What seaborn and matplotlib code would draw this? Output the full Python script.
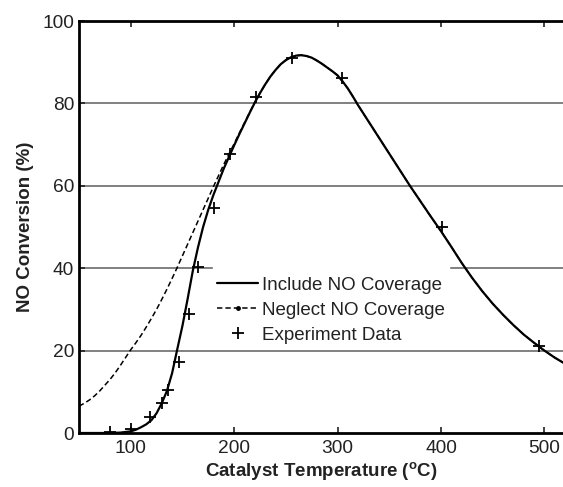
import numpy as np
import pandas as pd
import matplotlib
matplotlib.use('Agg')
import matplotlib.pyplot as plt
from matplotlib.lines import Line2D
import seaborn as sns

# --- data ---
temp_include = [50, 60, 70, 80, 90, 100, 105, 110, 115, 120, 125, 130, 135, 140, 145,
                150, 155, 160, 165, 170, 175, 180, 185, 190, 195, 200, 205, 210, 215,
                220, 225, 230, 235, 240, 245, 250, 255, 260, 265, 270, 275, 280, 285,
                290, 295, 300, 305, 310, 315, 320, 330, 340, 350, 360, 370, 380, 390,
                400, 410, 420, 430, 440, 450, 460, 470, 480, 490, 500, 510, 520]
conv_include = [0, 0, 0, 0, 0.1, 0.4, 0.8, 1.4, 2.1, 3.1, 4.8, 7.2, 10.2, 14.5, 20.3,
                26, 32.5, 39.3, 45, 50, 54.2, 57.8, 61, 64.2, 67, 69.8, 72.5, 75.1, 77.7,
                80.2, 82.5, 84.6, 86.5, 88.1, 89.5, 90.5, 91.2, 91.6, 91.7, 91.5, 91.1, 90.4, 89.6,
                88.7, 87.8, 86.8, 85.3, 83.6, 81.6, 79.5, 75.6, 71.7, 67.8, 63.9, 60, 56.3, 52.6,
                49, 45.2, 41.3, 37.7, 34.4, 31.4, 28.7, 26.2, 23.9, 21.9, 20, 18.3, 16.8]

temp_neglect = [50, 55, 60, 65, 70, 75, 80, 85, 90, 95, 100, 105, 110, 115, 120, 125,
                130, 135, 140, 145, 150, 155, 160, 165, 170, 175, 180, 185, 190, 195,
                200, 205, 210, 215, 220]
conv_neglect = [6.5, 7.2, 8.0, 9.0, 10.2, 11.6, 13.0, 14.6, 16.4, 18.3, 20.2, 21.9, 23.7,
                25.7, 27.8, 30.0, 32.4, 34.9, 37.5, 40.2, 43.0, 45.8, 48.6, 51.4, 54.2,
                57.0, 59.8, 62.5, 65.2, 67.7, 70.2, 72.8, 75.3, 77.8, 80.3]

temp_exp = [80, 100, 119, 130, 136, 147, 156, 165, 181, 196, 221, 256, 304, 401, 495]
conv_exp = [0.2, 1, 4, 7.3, 10.5, 17.3, 29, 40.3, 54.5, 67.6, 81.6, 90.9, 86.1, 50, 21.2]

# neglect curve joins the include curve after 220 C
mask = np.array(temp_include) > 220
temp_neglect_full = temp_neglect + list(np.array(temp_include)[mask])
conv_neglect_full = conv_neglect + list(np.array(conv_include)[mask])

df_inc = pd.DataFrame({'T': temp_include, 'X': conv_include})
df_neg = pd.DataFrame({'T': temp_neglect_full, 'X': conv_neglect_full})
df_exp = pd.DataFrame({'T': temp_exp, 'X': conv_exp})

# --- style ---
sns.set_style('ticks', {'xtick.direction': 'in', 'ytick.direction': 'in'})
plt.rcParams['font.family'] = ['Liberation Sans', 'DejaVu Sans']
plt.rcParams['mathtext.default'] = 'regular'

fig = plt.figure(figsize=(5.63, 4.87), dpi=100)
ax = fig.add_axes([79 / 563, 1 - 433 / 487, 1 - 79 / 563, (433 - 21) / 487])

for yv in [20, 40, 60, 80]:
    ax.axhline(yv, color='#808080', lw=1.4, zorder=0)

sns.lineplot(data=df_neg, x='T', y='X', ax=ax, color='black', lw=1.1,
             linestyle=(0, (3.5, 2)), sort=False)
sns.lineplot(data=df_inc, x='T', y='X', ax=ax, color='black', lw=1.6, sort=False)
sns.scatterplot(data=df_exp, x='T', y='X', ax=ax, marker='+', color='black',
                s=80, linewidth=1.3, zorder=5)

ax.set_xlim(50, 518)
ax.set_ylim(0, 100)
ax.set_xticks([100, 200, 300, 400, 500])
ax.set_yticks([0, 20, 40, 60, 80, 100])
ax.tick_params(axis='both', labelsize=13.8, length=4, width=1.2, colors='#222222',
               top=True, right=False)
ax.tick_params(axis='x', pad=5)

for side in ['left', 'bottom', 'top']:
    ax.spines[side].set_linewidth(2)
    ax.spines[side].set_color('black')
ax.spines['right'].set_visible(False)

ax.set_xlabel('Catalyst Temperature ($^{o}$C)', fontsize=13.5, fontweight='bold',
              color='#222222', labelpad=2)
ax.set_ylabel('NO Conversion (%)', fontsize=13.5, fontweight='bold', color='#222222',
              labelpad=6)

handles = [
    Line2D([], [], color='black', lw=1.6),
    Line2D([], [], color='black', lw=1.1, linestyle=(0, (3.5, 2)), marker='.',
           markersize=5),
    Line2D([], [], color='black', lw=0, marker='+', markersize=9, mew=1.3),
]
labels = ['Include NO Coverage', 'Neglect NO Coverage', 'Experiment Data']
# empty tiny title pads the white box upward so it hides the 40 % gridline
leg = ax.legend(handles, labels, loc='center', bbox_to_anchor=(0.521, 0.309),
                frameon=True, fontsize=13.5, numpoints=1, handlelength=2.2,
                handletextpad=0.2, labelspacing=0.42, borderpad=0.2,
                title=' ', title_fontsize=1,
                facecolor='white', edgecolor='white', framealpha=1, fancybox=False)
for t in leg.get_texts():
    t.set_color('#222222')
leg.set_zorder(4)

fig.savefig('out.png', dpi=100)
